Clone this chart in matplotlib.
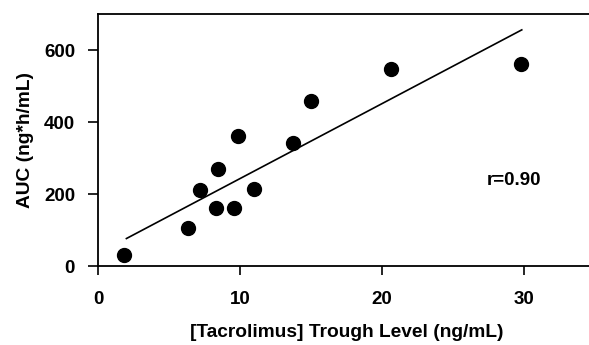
import matplotlib
matplotlib.use("Agg")
import matplotlib.pyplot as plt

plt.rcParams['font.family'] = ['Liberation Sans', 'DejaVu Sans']
plt.rcParams['font.weight'] = 'bold'
plt.rcParams['axes.labelweight'] = 'bold'

trough = [1.84, 6.32, 7.21, 8.28, 8.47, 9.6, 9.87, 10.99, 13.72, 15.03, 20.64, 29.83]
auc = [31, 107, 211, 161, 270, 162, 362, 214, 343, 458, 548, 560]
fit_x = [2.0, 29.85]
fit_y = [77, 656]
r_text = "r=0.90"
xticks = [0, 10, 20, 30]
yticks = [0, 200, 400, 600]

fig = plt.figure(figsize=(5.89, 3.45), dpi=100)
ax = fig.add_axes([98/589, 1-266.3/345, 1-98/589 + 0.01, (266.3-14)/345])
ax.plot(fit_x, fit_y, color='black', lw=1.2)
ax.scatter(trough, auc, s=100, color='black', zorder=3)
ax.text(27.4, 239, r_text, fontsize=13.5, va='center', ha='left')
ax.set_xlim(0, 35)
ax.set_ylim(0, 700)
ax.set_xticks(xticks)
ax.set_yticks(yticks)
ax.spines['right'].set_visible(False)
for s in ['left', 'bottom', 'top']:
    ax.spines[s].set_linewidth(1.3)
ax.tick_params(axis='x', direction='out', length=6.5, width=1.2, labelsize=13.5, pad=11)
ax.tick_params(axis='y', direction='out', length=7.5, width=1.2, labelsize=13.5, pad=9)
ax.set_xlabel('[Tacrolimus] Trough Level (ng/mL)', fontsize=13.8, labelpad=12)
ax.set_ylabel('AUC (ng*h/mL)', fontsize=13.8, labelpad=7)
fig.savefig('out.png', dpi=100)
